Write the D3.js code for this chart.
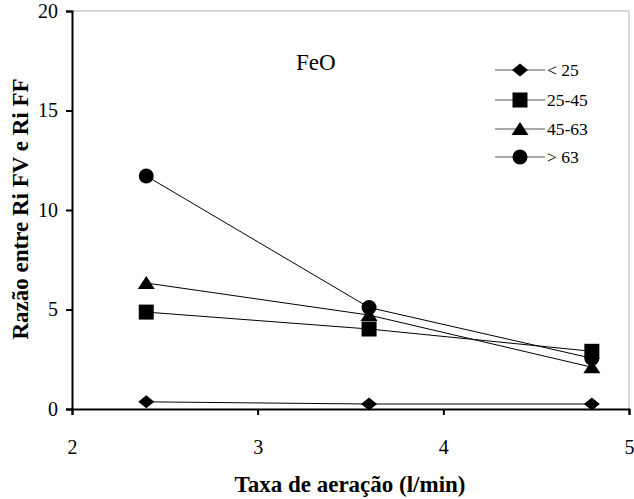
<!DOCTYPE html>
<html lang="pt">
<head>
<meta charset="UTF-8">
<title>FeO</title>
<script src="https://cdn.jsdelivr.net/npm/d3@7"></script>
<style>
  body { margin: 0; background: #fff; }
  text { font-family: "Liberation Serif", "Times New Roman", serif; fill: #000; }
</style>
</head>
<body>
<script>
// data
var taxa = [2.4, 3.6, 4.8];
var seriesNames = ["< 25", "25-45", "45-63", "> 63"];
var menor25 = [0.36, 0.25, 0.25];
var de25a45 = [4.87, 4.02, 2.9];
var de45a63 = [6.33, 4.72, 2.1];
var maior63 = [11.71, 5.1, 2.55];
var xTicks = [2, 3, 4, 5];
var yTicks = [0, 5, 10, 15, 20];

var w = 634, h = 499;
var plotL = 72, plotR = 629, plotT = 11, plotB = 409;

// marker shapes (Excel style)
var diamond = "M-8,0L0,-6.5L8,0L0,6.5Z";
var square = "M-7.5,-7.5H7.5V7.5H-7.5Z";
var triangle = "M0,-7L8.5,6H-8.5Z";
var circle = d3.symbol().type(d3.symbolCircle).size(Math.PI * 7.5 * 7.5)();

var series = [
  { name: seriesNames[0], values: menor25, shape: diamond },
  { name: seriesNames[1], values: de25a45, shape: square },
  { name: seriesNames[2], values: de45a63, shape: triangle },
  { name: seriesNames[3], values: maior63, shape: circle }
];

var x = d3.scaleLinear().domain([2, 5]).range([plotL, plotR]);
var y = d3.scaleLinear().domain([0, 20]).range([plotB, plotT]);

var svg = d3.select("body").append("svg")
  .attr("width", w).attr("height", h);

// plot area border (top / right)
svg.append("path")
  .attr("d", "M" + plotL + "," + plotT + "H" + plotR + "V" + plotB)
  .attr("fill", "none").attr("stroke", "#b0b0b0").attr("stroke-width", 1);

// axes
var yAxis = svg.append("g")
  .attr("transform", "translate(" + plotL + ",0)")
  .call(d3.axisLeft(y).tickValues(yTicks).tickFormat(d3.format("d")).tickSizeOuter(0).tickSize(6).tickPadding(8));
var xAxis = svg.append("g")
  .attr("transform", "translate(0," + plotB + ")")
  .call(d3.axisBottom(x).tickValues(xTicks).tickFormat(d3.format("d")).tickSizeOuter(0).tickSize(6).tickPadding(25));

[xAxis, yAxis].forEach(function(a) {
  a.select(".domain").attr("stroke", "#000").attr("stroke-width", 2);
  a.selectAll(".tick line").attr("stroke", "#000").attr("stroke-width", 2);
  a.selectAll(".tick text").style("font-size", "20px")
    .style("font-family", "'Liberation Serif', serif").attr("fill", "#000");
});

// lines + markers
var line = d3.line()
  .x(function(d, i) { return x(taxa[i]); })
  .y(function(d) { return y(d); });

series.forEach(function(s) {
  svg.append("path")
    .datum(s.values)
    .attr("d", line)
    .attr("fill", "none").attr("stroke", "#000").attr("stroke-width", 1);
});

series.forEach(function(s) {
  svg.selectAll(null)
    .data(s.values)
    .enter().append("path")
    .attr("d", s.shape)
    .attr("transform", function(d, i) {
      return "translate(" + x(taxa[i]) + "," + y(d) + ")";
    })
    .attr("fill", "#000");
});

// FeO label
svg.append("text")
  .attr("x", 296).attr("y", 70)
  .style("font-size", "23px")
  .text("FeO");

// legend
var legend = svg.append("g");
var legendY = [70, 100, 129, 157];
series.forEach(function(s, i) {
  var ly = legendY[i];
  legend.append("line")
    .attr("x1", 495).attr("x2", 545).attr("y1", ly).attr("y2", ly)
    .attr("stroke", "#555").attr("stroke-width", 1);
  legend.append("path")
    .attr("d", s.shape)
    .attr("transform", "translate(520," + ly + ")")
    .attr("fill", "#000");
  legend.append("text")
    .attr("x", 547).attr("y", ly + 6)
    .style("font-size", "17.5px")
    .text(s.name);
});

// axis titles
svg.append("text")
  .attr("x", 350).attr("y", 492)
  .attr("text-anchor", "middle")
  .style("font-size", "23px").style("font-weight", "bold")
  .text("Taxa de aeração (l/min)");

svg.append("text")
  .attr("transform", "translate(28,209) rotate(-90)")
  .attr("text-anchor", "middle")
  .style("font-size", "23px").style("font-weight", "bold")
  .text("Razão entre Ri FV e Ri FF");
</script>
</body>
</html>
